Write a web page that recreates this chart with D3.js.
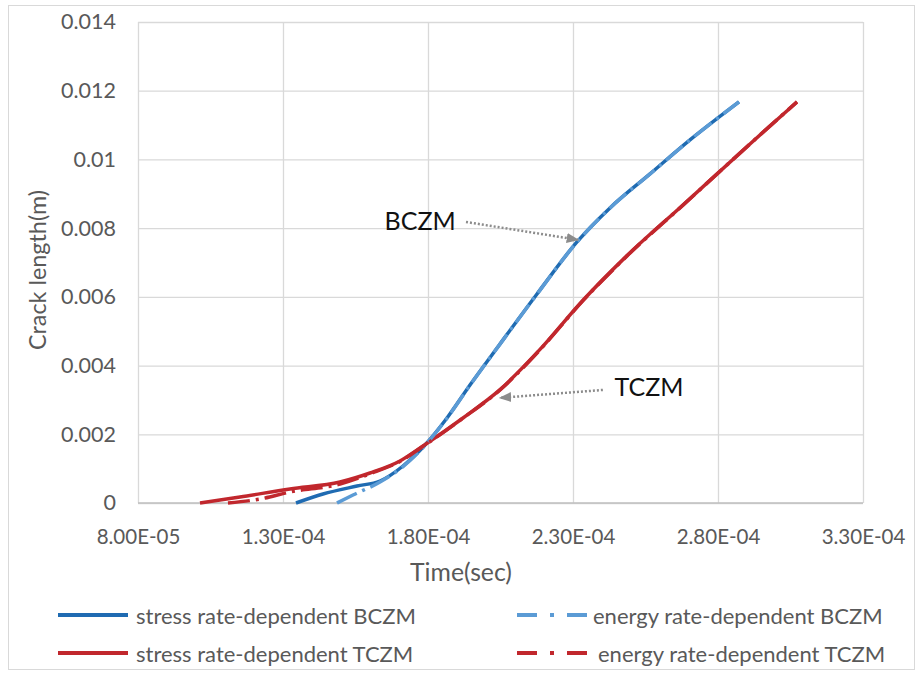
<!DOCTYPE html>
<html>
<head>
<meta charset="utf-8">
<script src="https://cdn.jsdelivr.net/npm/d3@7"></script>
<style>
  html, body { margin: 0; padding: 0; background: #fff; }
  svg { display: block; font-family: Lato, "Open Sans", sans-serif; }
</style>
</head>
<body>
<svg id="chart" width="921" height="674"></svg>
<script>
// ---------- data (time in s, crack length in m) ----------
const stressBCZM = [
  [1.3448e-4, 0], [1.4379e-4, 0.000262], [1.5552e-4, 0.000495], [1.6345e-4, 0.00064],
  [1.7138e-4, 0.001077], [1.7897e-4, 0.001688], [1.8655e-4, 0.002475], [1.9448e-4, 0.003435],
  [2.0483e-4, 0.004629], [2.1759e-4, 0.006084], [2.3138e-4, 0.007598], [2.4276e-4, 0.008588],
  [2.5655e-4, 0.009578], [2.7034e-4, 0.010568], [2.8724e-4, 0.011674]
];
const energyBCZM = [
  [1.4862e-4, 0], [1.5414e-4, 0.000233], [1.6345e-4, 0.000611],
  [1.7138e-4, 0.001060], [1.7897e-4, 0.001680], [1.8655e-4, 0.002470], [1.9448e-4, 0.003430],
  [2.0483e-4, 0.004625], [2.1759e-4, 0.006080], [2.3138e-4, 0.007595], [2.4276e-4, 0.008585],
  [2.5655e-4, 0.009575], [2.7034e-4, 0.010565], [2.8724e-4, 0.011674]
];
const stressTCZM = [
  [1.0138e-4, 0], [1.1517e-4, 0.000175], [1.3241e-4, 0.000408], [1.4966e-4, 0.000611],
  [1.60e-4, 0.000873], [1.7034e-4, 0.001223], [1.7828e-4, 0.001659], [1.9207e-4, 0.002475],
  [2.0483e-4, 0.00330], [2.1862e-4, 0.00447], [2.3345e-4, 0.00590], [2.4862e-4, 0.00720],
  [2.6793e-4, 0.008675], [2.9103e-4, 0.010451], [3.0724e-4, 0.011674]
];
const energyTCZM = [
  [1.1103e-4, 0], [1.2207e-4, 0.000116], [1.3241e-4, 0.00032], [1.4966e-4, 0.000553],
  [1.60e-4, 0.00085], [1.7034e-4, 0.00121], [1.7828e-4, 0.00165], [1.9207e-4, 0.00247],
  [2.0483e-4, 0.00329], [2.1862e-4, 0.00446], [2.3345e-4, 0.00589], [2.4862e-4, 0.00719],
  [2.6793e-4, 0.00867], [2.9103e-4, 0.01045], [3.0724e-4, 0.011674]
];
const xTicks = [8.0e-5, 1.3e-4, 1.8e-4, 2.3e-4, 2.8e-4, 3.3e-4];
const xTickLabels = ["8.00E-05", "1.30E-04", "1.80E-04", "2.30E-04", "2.80E-04", "3.30E-04"];
const yTicks = [0, 0.002, 0.004, 0.006, 0.008, 0.01, 0.012, 0.014];
const yTickLabels = ["0", "0.002", "0.004", "0.006", "0.008", "0.01", "0.012", "0.014"];
const seriesNames = ["stress rate-dependent BCZM", "energy rate-dependent BCZM",
                     "stress rate-dependent TCZM", "energy rate-dependent TCZM"];
// annotations: label position and arrow (start -> tip) in data coords
const annotations = [
  { text: "BCZM", at: [1.773e-4, 0.00824], from: [1.931e-4, 0.00818], to: [2.317e-4, 0.00766] },
  { text: "TCZM", at: [2.562e-4, 0.0034], from: [2.403e-4, 0.00329], to: [2.048e-4, 0.00306] }
];

// ---------- layout ----------
const svg = d3.select("#chart");
const plot = { left: 138, right: 863, top: 22, bottom: 503 };
const x = d3.scaleLinear().domain([8.0e-5, 3.3e-4]).range([plot.left, plot.right]);
const y = d3.scaleLinear().domain([0, 0.014]).range([plot.bottom, plot.top]);
const textGray = "#595959";
const gridGray = "#d9d9d9";

function fitText(sel, targetWidth) {
  const node = sel.node();
  const fs = parseFloat(sel.attr("font-size"));
  const w = node.getComputedTextLength();
  if (w > 0) sel.attr("font-size", (fs * targetWidth / w).toFixed(2));
  return sel;
}

// outer frame
svg.append("rect").attr("x", 8.5).attr("y", 5.5).attr("width", 906).attr("height", 664)
  .attr("fill", "#fff").attr("stroke", "#d9d9d9").attr("stroke-width", 1);

// gridlines + tick labels
const gAxisY = svg.append("g").attr("transform", `translate(${plot.left},0)`)
  .call(d3.axisLeft(y).tickValues(yTicks).tickFormat((d, i) => yTickLabels[i])
        .tickSize(-(plot.right - plot.left)).tickPadding(22));
gAxisY.select(".domain").remove();
gAxisY.selectAll(".tick line").attr("stroke", gridGray).attr("stroke-width", 1.3);
gAxisY.selectAll(".tick text").attr("fill", textGray).attr("font-size", 21.5)
  .attr("font-family", "Lato, sans-serif");

const gAxisX = svg.append("g").attr("transform", `translate(0,${plot.bottom})`)
  .call(d3.axisBottom(x).tickValues(xTicks).tickFormat((d, i) => xTickLabels[i])
        .tickSize(-(plot.bottom - plot.top)).tickPadding(26));
gAxisX.select(".domain").remove();
gAxisX.selectAll(".tick line").attr("stroke", gridGray).attr("stroke-width", 1.3);
gAxisX.selectAll(".tick text").attr("fill", textGray).attr("font-size", 20.5)
  .attr("font-family", "Lato, sans-serif");

// bottom axis line
svg.append("line").attr("x1", plot.left).attr("x2", plot.right)
  .attr("y1", y(0)).attr("y2", y(0)).attr("stroke", "#bfbfbf").attr("stroke-width", 1.3);

// axis titles
fitText(svg.append("text").attr("x", 461).attr("y", 581)
  .attr("text-anchor", "middle").attr("fill", textGray).attr("font-size", 22)
  .text("Time(sec)"), 102);
fitText(svg.append("text").attr("transform", `translate(46,270) rotate(-90)`)
  .attr("text-anchor", "middle").attr("fill", textGray).attr("font-size", 22)
  .text("Crack length(m)"), 160);

// ---------- lines ----------
const line = d3.line().x(d => x(d[0])).y(d => y(d[1])).curve(d3.curveMonotoneX);
const styles = [
  { data: stressBCZM, color: "#1f6bb2", dash: null },
  { data: energyBCZM, color: "#5b9bd5", dash: "22,6,3,6" },
  { data: stressTCZM, color: "#c1272d", dash: null },
  { data: energyTCZM, color: "#c1272d", dash: "22,6,3,6" }
];
const drawOrder = [0, 2, 1, 3];
drawOrder.forEach(i => {
  const s = styles[i];
  svg.append("path").datum(s.data).attr("d", line)
    .attr("fill", "none").attr("stroke", s.color).attr("stroke-width", 3.5)
    .attr("stroke-linejoin", "round")
    .attr("stroke-dasharray", s.dash);
});

// ---------- annotations ----------
const defs = svg.append("defs");
defs.append("marker").attr("id", "arr").attr("viewBox", "0 0 10 10")
  .attr("refX", 9).attr("refY", 5).attr("markerWidth", 5).attr("markerHeight", 5)
  .attr("markerUnits", "strokeWidth").attr("orient", "auto")
  .append("path").attr("d", "M0,1 L10,5 L0,9 Z").attr("fill", "#8c8c8c");
annotations.forEach(a => {
  svg.append("line").attr("x1", x(a.from[0])).attr("y1", y(a.from[1]))
    .attr("x2", x(a.to[0])).attr("y2", y(a.to[1]))
    .attr("stroke", "#8c8c8c").attr("stroke-width", 2.5).attr("stroke-dasharray", "2,2")
    .attr("marker-end", "url(#arr)");
  svg.append("text").attr("x", x(a.at[0])).attr("y", y(a.at[1]))
    .attr("text-anchor", "middle").attr("dominant-baseline", "central")
    .attr("fill", "#111").attr("font-size", 25).text(a.text);
});

// ---------- legend ----------
const legendItems = [
  { name: seriesNames[0], s: styles[0], lx: 58, ly: 615, tx: 136 },
  { name: seriesNames[1], s: styles[1], lx: 517, ly: 615, tx: 593 },
  { name: seriesNames[2], s: styles[2], lx: 58, ly: 653, tx: 136 },
  { name: seriesNames[3], s: styles[3], lx: 517, ly: 653, tx: 598 }
];
legendItems.forEach(it => {
  svg.append("line").attr("x1", it.lx).attr("x2", it.lx + 70)
    .attr("y1", it.ly).attr("y2", it.ly)
    .attr("stroke", it.s.color).attr("stroke-width", 4)
    .attr("stroke-dasharray", it.s.dash ? "20,13,4,13" : null);
  svg.append("text").attr("x", it.tx).attr("y", it.ly)
    .attr("dominant-baseline", "central").attr("fill", textGray).attr("font-size", 22)
    .text(it.name);
});
</script>
</body>
</html>
